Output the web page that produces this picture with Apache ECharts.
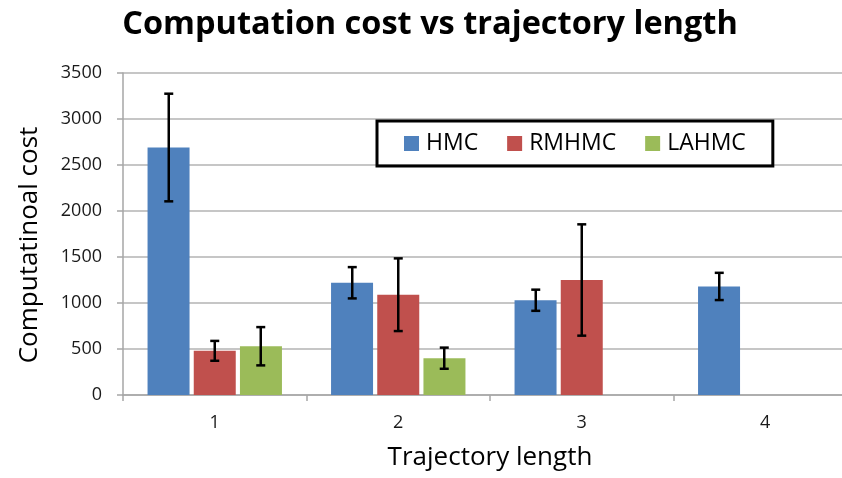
<!DOCTYPE html>
<html>
<head>
<meta charset="utf-8">
<script src="https://cdn.jsdelivr.net/npm/echarts@6/dist/echarts.min.js"></script>
<style>
  html, body { margin: 0; padding: 0; background: #fff; overflow: hidden; }
  /* the plot runs a little past the right edge in the original */
  #chart { width: 860px; height: 478px; }
</style>
</head>
<body>
<div id="chart"></div>
<script>
var categories = ['1', '2', '3', '4']
var seriesNames = ['HMC', 'RMHMC', 'LAHMC']
var hmc = [2690, 1220, 1030, 1180]
var rmhmc = [480, 1090, 1250, null]
var lahmc = [530, 400, null, null]
// error bar half widths
var hmcErr = [585, 170, 115, 148]
var rmhmcErr = [108, 395, 605, null]
var lahmcErr = [208, 115, null, null]
var colors = ['#4F81BD', '#C0504D', '#9BBB59']

var chart = echarts.init(document.getElementById('chart'))

var barWidth = 42
var barGap = 4

function errorSeries(values, errs, idx) {
  var data = []
  for (var i = 0; i < values.length; i++) {
    if (values[i] == null) continue
    data.push([i, values[i] - errs[i], values[i] + errs[i]])
  }
  return {
    type: 'custom',
    name: seriesNames[idx] + ' err',
    z: 10,
    silent: true,
    data: data,
    renderItem: function (params, api) {
      var cat = api.value(0)
      var low = api.coord([cat, api.value(1)])
      var high = api.coord([cat, api.value(2)])
      // every category keeps three slots, like the bars do
      var total = 3 * barWidth + 2 * barGap
      var x = low[0] - total / 2 + idx * (barWidth + barGap) + barWidth / 2
      var half = 4.5
      var style = { stroke: '#000', lineWidth: 2.5 }
      return {
        type: 'group',
        children: [
          { type: 'line', shape: { x1: x, y1: high[1], x2: x, y2: low[1] }, style: style },
          { type: 'line', shape: { x1: x - half, y1: high[1], x2: x + half, y2: high[1] }, style: style },
          { type: 'line', shape: { x1: x - half, y1: low[1], x2: x + half, y2: low[1] }, style: style }
        ]
      }
    }
  }
}

chart.setOption({
  animation: false,
  title: {
    text: 'Computation cost vs trajectory length',
    left: 'center',
    top: 3,
    textStyle: {
      fontFamily: 'Open Sans',
      fontWeight: 'bold',
      fontSize: 32.5,
      color: '#000'
    }
  },
  legend: {
    data: seriesNames,
    left: 377,
    top: 121,
    padding: [11, 27, 11, 27],
    itemGap: 29,
    itemWidth: 15,
    itemHeight: 15,
    borderColor: '#000',
    borderWidth: 3,
    icon: 'rect',
    textStyle: {
      fontFamily: 'Open Sans',
      fontSize: 23,
      color: '#000',
      padding: [0, 0, 0, 2]
    }
  },
  grid: {
    left: 123,
    width: 734,
    top: 73,
    bottom: 83
  },
  xAxis: {
    type: 'category',
    data: categories,
    name: 'Trajectory length',
    nameLocation: 'middle',
    nameGap: 50,
    nameTextStyle: {
      fontFamily: 'Open Sans',
      fontSize: 26,
      color: '#000'
    },
    axisLine: { lineStyle: { color: '#a6a6a6', width: 1.5 } },
    axisTick: { show: true, length: 6, lineStyle: { color: '#a6a6a6', width: 1.5 } },
    axisLabel: {
      fontFamily: 'Open Sans',
      fontSize: 18,
      color: '#1a1a1a',
      margin: 19
    }
  },
  yAxis: {
    type: 'value',
    min: 0,
    max: 3500,
    interval: 500,
    name: 'Computatinoal cost',
    nameLocation: 'middle',
    nameGap: 80,
    nameTextStyle: {
      fontFamily: 'Open Sans',
      fontSize: 26,
      color: '#000',
      padding: [0, 22, 0, 0]
    },
    axisLine: { show: true, lineStyle: { color: '#a6a6a6', width: 1.5 } },
    axisTick: { show: true, length: 6, lineStyle: { color: '#a6a6a6', width: 1.5 } },
    splitLine: { lineStyle: { color: '#b3b3b3', width: 1.5 } },
    axisLabel: {
      fontFamily: 'Open Sans',
      fontSize: 18,
      color: '#1a1a1a',
      margin: 21,
      formatter: function (v) { return String(v) }
    }
  },
  series: [
    {
      name: 'HMC',
      type: 'bar',
      data: hmc,
      barWidth: barWidth,
      barGap: '10%',
      itemStyle: { color: colors[0] }
    },
    {
      name: 'RMHMC',
      type: 'bar',
      data: rmhmc,
      barWidth: barWidth,
      barGap: '10%',
      itemStyle: { color: colors[1] }
    },
    {
      name: 'LAHMC',
      type: 'bar',
      data: lahmc,
      barWidth: barWidth,
      barGap: '10%',
      itemStyle: { color: colors[2] }
    },
    errorSeries(hmc, hmcErr, 0),
    errorSeries(rmhmc, rmhmcErr, 1),
    errorSeries(lahmc, lahmcErr, 2)
  ]
})
</script>
</body>
</html>
